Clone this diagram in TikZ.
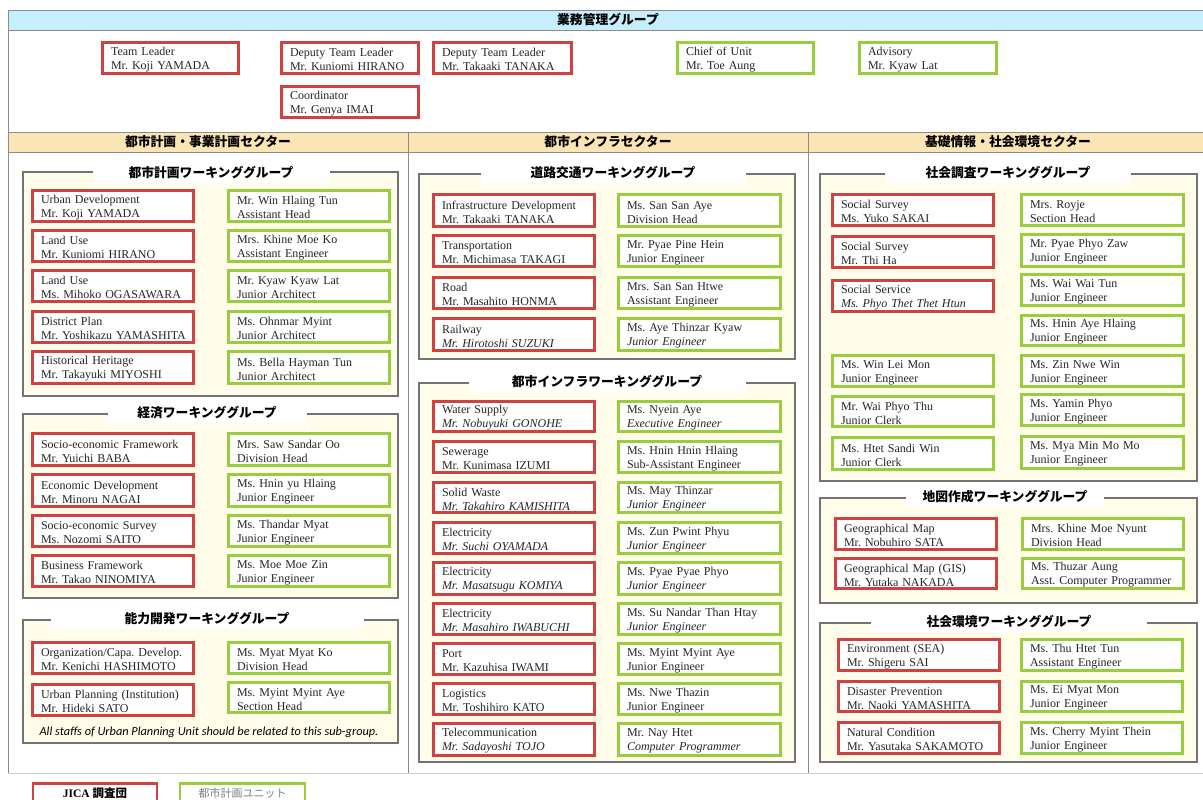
\documentclass[tikz,border=0pt]{standalone}
\usepackage{fontspec}
\setmainfont{Liberation Serif}
\newfontfamily\jp{Noto Sans CJK JP}
\newfontfamily\notefont{Carlito}
\frenchspacing
\definecolor{jred}{RGB}{208,66,66}
\definecolor{ugreen}{RGB}{152,206,62}
\definecolor{wgfill}{RGB}{255,253,234}
\definecolor{topbar}{RGB}{198,238,252}
\definecolor{secbar}{RGB}{252,229,180}
\tikzset{
 pbox/.style={line width=2.6pt, fill=white, inner sep=0pt, align=left, font=\fontsize{12}{14}\selectfont, text=black!85},
 wgframe/.style={draw=black!55, line width=1.2pt, fill=wgfill},
 wgtitle/.style={fill=white, inner sep=0pt, minimum height=20pt, font=\jp\bfseries\fontsize{12.8}{14}\selectfont},
 bartitle/.style={font=\jp\bfseries\fontsize{12.8}{14}\selectfont, inner sep=0pt},
 outline/.style={draw=black!45, line width=0.9pt},
}
\newcommand\pb[8]{%
  \pgfmathsetmacro\pbw{#5-#3-2.5}%
  \pgfmathsetmacro\pbh{#6-#4-2.5}%
  \pgfmathsetmacro\pbt{#5-#3-20}%
  \pgfmathsetmacro\pbx{(#3+#5)/2}%
  \pgfmathsetmacro\pby{(#4+#6)/2}%
  \node[pbox,draw=#2,minimum width=\pbw pt,minimum height=\pbh pt,text width=\pbt pt] (#1) at (\pbx,\pby) {\mbox{\rule{0pt}{11.5pt}#7}\\\mbox{#8}};}
\newcommand\jbox[7]{\pb{#1}{jred}{#2}{#3}{#4}{#5}{#6}{#7}}
\newcommand\ubox[7]{\pb{#1}{ugreen}{#2}{#3}{#4}{#5}{#6}{#7}}
\begin{document}
\begin{tikzpicture}[x=1pt,y=-1pt]
\useasboundingbox (0,0) rectangle (1203,800);
\fill[white] (0,0) rectangle (1203,800);
% outer structure
\draw[outline,fill=topbar] (8,10) rectangle (1210,30);
\node[bartitle] (top) at (608,20) {業務管理グループ};
\draw[outline] (8,10) -- (8,773);
\draw[outline,fill=secbar] (8,132) rectangle (1210,152);
\draw[outline] (408,132) -- (408,773);
\draw[outline] (808,132) -- (808,773);
\draw[draw=black!20, line width=0.9pt] (8,773) -- (1210,773);
\node[bartitle] (s1) at (208,142) {都市計画・事業計画セクター};
\node[bartitle] (s2) at (608,142) {都市インフラセクター};
\node[bartitle] (s3) at (1008,142) {基礎情報・社会環境セクター};
% management
\jbox{tl}{101}{41}{240}{75}{Team Leader}{Mr. Koji YAMADA}
\jbox{dtla}{280}{41}{420}{75}{Deputy Team Leader}{Mr. Kuniomi HIRANO}
\jbox{dtlb}{432}{41}{573}{75}{Deputy Team Leader}{Mr. Takaaki TANAKA}
\jbox{coord}{280}{85}{420}{119}{Coordinator}{Mr. Genya IMAI}
\ubox{chief}{676}{41}{815}{75}{Chief of Unit}{Mr. Toe Aung}
\ubox{adv}{858}{41}{998}{75}{Advisory}{Mr. Kyaw Lat}
% ---- left sector
\draw[wgframe] (23,172) rectangle (398,396);
\node[wgtitle,minimum width=237pt] (wg1) at (211,173) {都市計画ワーキンググループ};
\jbox{a1}{31}{189}{195}{223}{Urban Development}{Mr. Koji YAMADA}
\jbox{a2}{31}{229}{195}{263}{Land Use}{Mr. Kuniomi HIRANO}
\jbox{a3}{31}{269}{195}{303}{Land Use}{Ms. Mihoko OGASAWARA}
\jbox{a4}{31}{310}{195}{344}{District Plan}{Mr. Yoshikazu YAMASHITA}
\jbox{a5}{31}{350}{195}{385}{Historical Heritage}{Mr. Takayuki MIYOSHI}
\ubox{b1}{227}{189}{391}{223}{Mr. Win Hlaing Tun}{Assistant Head}
\ubox{b2}{227}{229}{391}{263}{Mrs. Khine Moe Ko}{Assistant Engineer}
\ubox{b3}{227}{269}{391}{303}{Mr. Kyaw Kyaw Lat}{Junior Architect}
\ubox{b4}{227}{310}{391}{344}{Ms. Ohnmar Myint}{Junior Architect}
\ubox{b5}{227}{350}{391}{385}{Ms. Bella Hayman Tun}{Junior Architect}
\draw[wgframe] (23,414) rectangle (398,598);
\node[wgtitle,minimum width=199pt] (wg2) at (207,413) {経済ワーキンググループ};
\jbox{c1}{31}{432}{195}{467}{Socio-economic Framework}{Mr. Yuichi BABA}
\jbox{c2}{31}{473}{195}{508}{Economic Development}{Mr. Minoru NAGAI}
\jbox{c3}{31}{514}{195}{548}{Socio-economic Survey}{Ms. Nozomi SAITO}
\jbox{c4}{31}{554}{195}{588}{Business Framework}{Mr. Takao NINOMIYA}
\ubox{d1}{227}{432}{391}{467}{Mrs. Saw Sandar Oo}{Division Head}
\ubox{d2}{227}{473}{391}{508}{Ms. Hnin yu Hlaing}{Junior Engineer}
\ubox{d3}{227}{514}{391}{548}{Ms. Thandar Myat}{Junior Engineer}
\ubox{d4}{227}{554}{391}{588}{Ms. Moe Moe Zin}{Junior Engineer}
\draw[wgframe] (23,620) rectangle (398,743);
\node[wgtitle,minimum width=313pt] (wg3) at (207,619) {能力開発ワーキンググループ};
\jbox{e1}{31}{641}{195}{675}{Organization/Capa. Develop.}{Mr. Kenichi HASHIMOTO}
\jbox{e2}{31}{683}{195}{717}{Urban Planning (Institution)}{Mr. Hideki SATO}
\ubox{f1}{227}{641}{391}{675}{Ms. Myat Myat Ko}{Division Head}
\ubox{f2}{227}{681}{391}{714}{Ms. Myint Myint Aye}{Section Head}
\node[inner sep=0pt,font=\notefont\itshape\fontsize{12.3}{14}\selectfont] (note) at (209,732) {All staffs of Urban Planning Unit should be related to this sub-group.};
% ---- middle sector
\draw[wgframe] (419,174) rectangle (795,359);
\node[wgtitle,minimum width=265pt] (wg4) at (613,173) {道路交通ワーキンググループ};
\jbox{g1}{432}{193}{596}{228}{Infrastructure Development}{Mr. Takaaki TANAKA}
\jbox{g2}{432}{234}{596}{268}{Transportation}{Mr. Michimasa TAKAGI}
\jbox{g3}{432}{276}{596}{310}{Road}{Mr. Masahito HONMA}
\jbox{g4}{432}{317}{596}{352}{Railway}{\textit{Mr. Hirotoshi SUZUKI}}
\ubox{h1}{617}{193}{782}{228}{Ms. San San Aye}{Division Head}
\ubox{h2}{617}{234}{782}{268}{Mr. Pyae Pine Hein}{Junior Engineer}
\ubox{h3}{617}{276}{782}{310}{Mrs. San San Htwe}{Assistant Engineer}
\ubox{h4}{617}{317}{782}{352}{Ms. Aye Thinzar Kyaw}{\textit{Junior Engineer}}
\draw[wgframe] (419,383) rectangle (795,762);
\node[wgtitle,minimum width=277pt] (wg5) at (607,382) {都市インフラワーキンググループ};
\jbox{i1}{432}{400}{596}{433}{Water Supply}{\textit{Mr. Nobuyuki GONOHE}}
\jbox{i2}{432}{440}{596}{474}{Sewerage}{Mr. Kunimasa IZUMI}
\jbox{i3}{432}{481}{596}{514}{Solid Waste}{\textit{Mr. Takahiro KAMISHITA}}
\jbox{i4}{432}{521}{596}{555}{Electricity}{\textit{Mr. Suchi OYAMADA}}
\jbox{i5}{432}{561}{596}{596}{Electricity}{\textit{Mr. Masatsugu KOMIYA}}
\jbox{i6}{432}{602}{596}{636}{Electricity}{\textit{Mr. Masahiro IWABUCHI}}
\jbox{i7}{432}{642}{596}{676}{Port}{Mr. Kazuhisa IWAMI}
\jbox{i8}{432}{682}{596}{716}{Logistics}{Mr. Toshihiro KATO}
\jbox{i9}{432}{722}{596}{757}{Telecommunication}{\textit{Mr. Sadayoshi TOJO}}
\ubox{j1}{617}{400}{782}{433}{Ms. Nyein Aye}{\textit{Executive Engineer}}
\ubox{j2}{617}{440}{782}{474}{Ms. Hnin Hnin Hlaing}{Sub-Assistant Engineer}
\ubox{j3}{617}{481}{782}{514}{Ms. May Thinzar}{\textit{Junior Engineer}}
\ubox{j4}{617}{521}{782}{555}{Ms. Zun Pwint Phyu}{\textit{Junior Engineer}}
\ubox{j5}{617}{561}{782}{596}{Ms. Pyae Pyae Phyo}{\textit{Junior Engineer}}
\ubox{j6}{617}{602}{782}{636}{Ms. Su Nandar Than Htay}{\textit{Junior Engineer}}
\ubox{j7}{617}{642}{782}{676}{Ms. Myint Myint Aye}{Junior Engineer}
\ubox{j8}{617}{682}{782}{716}{Ms. Nwe Thazin}{Junior Engineer}
\ubox{j9}{617}{722}{782}{757}{Mr. Nay Htet}{\textit{Computer Programmer}}
% ---- right sector
\draw[wgframe] (820,174) rectangle (1197,481);
\node[wgtitle,minimum width=246pt] (wg6) at (1008,173) {社会調査ワーキンググループ};
\jbox{k1}{831}{193}{995}{227}{Social Survey}{Ms. Yuko SAKAI}
\jbox{k2}{831}{235}{995}{269}{Social Survey}{Mr. Thi Ha}
\jbox{k3}{831}{279}{995}{313}{Social Service}{\textit{Ms. Phyo Thet Thet Htun}}
\ubox{k5}{831}{354}{995}{388}{Ms. Win Lei Mon}{Junior Engineer}
\ubox{k6}{831}{395}{995}{428}{Mr. Wai Phyo Thu}{Junior Clerk}
\ubox{k7}{831}{436}{995}{471}{Ms. Htet Sandi Win}{Junior Clerk}
\ubox{l1}{1020}{193}{1185}{227}{Mrs. Royje}{Section Head}
\ubox{l2}{1020}{233}{1185}{268}{Mr. Pyae Phyo Zaw}{Junior Engineer}
\ubox{l3}{1020}{273}{1185}{307}{Ms. Wai Wai Tun}{Junior Engineer}
\ubox{l4}{1020}{314}{1185}{347}{Ms. Hnin Aye Hlaing}{Junior Engineer}
\ubox{l5}{1020}{354}{1185}{388}{Ms. Zin Nwe Win}{Junior Engineer}
\ubox{l6}{1020}{393}{1185}{427}{Ms. Yamin Phyo}{Junior Engineer}
\ubox{l7}{1020}{435}{1185}{470}{Ms. Mya Min Mo Mo}{Junior Engineer}
\draw[wgframe] (820,498) rectangle (1197,603);
\node[wgtitle,minimum width=198pt] (wg7) at (1005,497) {地図作成ワーキンググループ};
\jbox{m1}{834}{517}{998}{551}{Geographical Map}{Mr. Nobuhiro SATA}
\jbox{m2}{834}{557}{998}{590}{Geographical Map (GIS)}{Mr. Yutaka NAKADA}
\ubox{n1}{1021}{517}{1185}{551}{Mrs. Khine Moe Nyunt}{Division Head}
\ubox{n2}{1021}{557}{1185}{590}{Ms. Thuzar Aung}{Asst. Computer Programmer}
\draw[wgframe] (820,623) rectangle (1197,762);
\node[wgtitle,minimum width=276pt] (wg8) at (1009,622) {社会環境ワーキンググループ};
\jbox{o1}{837}{638}{1001}{672}{Environment (SEA)}{Mr. Shigeru SAI}
\jbox{o2}{837}{680}{1001}{713}{Disaster Prevention}{Mr. Naoki YAMASHITA}
\jbox{o3}{837}{721}{1001}{755}{Natural Condition}{Mr. Yasutaka SAKAMOTO}
\ubox{p1}{1020}{638}{1184}{672}{Ms. Thu Htet Tun}{Assistant Engineer}
\ubox{p2}{1020}{680}{1184}{713}{Ms. Ei Myat Mon}{Junior Engineer}
\ubox{p3}{1020}{721}{1184}{755}{Ms. Cherry Myint Thein}{Junior Engineer}
% legend
\begin{scope}
\clip (0,0) rectangle (1203,800);
\node[draw=jred,line width=2.6pt,fill=white,minimum width=124pt,minimum height=20pt,inner sep=0pt,font=\fontsize{11.5}{13}\selectfont] (leg1) at (95,793.5) {\textbf{JICA} {\jp\bfseries 調査団}};
\node[draw=ugreen,line width=2.6pt,fill=white,minimum width=125pt,minimum height=20pt,inner sep=0pt,text=black!50,font=\jp\fontsize{11}{13}\selectfont] (leg2) at (242.5,793.5) {都市計画ユニット};
\end{scope}
\end{tikzpicture}
\end{document}
